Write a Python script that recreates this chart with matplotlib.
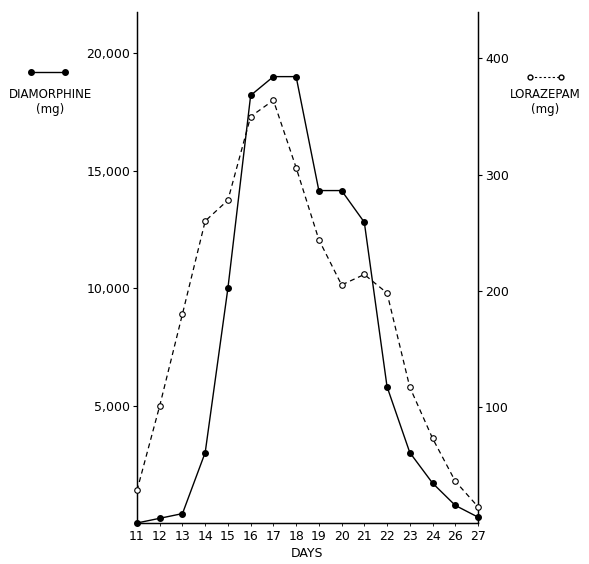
import numpy as np
import matplotlib
matplotlib.use("Agg")
import matplotlib.pyplot as plt

# day labels as printed on the chart (25 is absent in the original)
days = ["11", "12", "13", "14", "15", "16", "17", "18", "19", "20",
        "21", "22", "23", "24", "26", "27"]
diamorphine = [0, 200, 400, 3000, 10000, 18200, 19000, 19000, 14150, 14150,
               12800, 5800, 3000, 1700, 750, 250]
lorazepam = [28, 101, 180, 260, 278, 350, 364, 306, 244, 205,
             214, 198, 117, 73, 36, 14]

plt.rcParams["font.family"] = ["DejaVu Sans"]
plt.rcParams["font.size"] = 9

fig = plt.figure(figsize=(5.89, 5.64), dpi=100)
ax = fig.add_axes([0.2326, 0.0727, 0.5789, 0.906])
ax2 = ax.twinx()

x = np.arange(len(days))
ax.plot(x, diamorphine, color="black", lw=1.0, marker="o", ms=4,
        mfc="black", mec="black", clip_on=False, zorder=3)
ax2.plot(x, lorazepam, color="black", lw=0.9, ls=(0, (4, 3)), marker="o",
         ms=4, mfc="white", mec="black", mew=0.8, clip_on=False, zorder=3)

ax.set_xlim(0, len(days) - 1)
ax.set_ylim(0, 21750)
ax2.set_ylim(0, 440)

ax.set_xticks(x)
ax.set_xticklabels(days)
ax.tick_params(axis="x", length=2, width=0.6, pad=3)
ax.set_yticks([5000, 10000, 15000, 20000])
ax.set_yticklabels(["5,000", "10,000", "15,000", "20,000"])
ax.tick_params(axis="y", length=3, width=0.8, pad=2)
ax2.set_yticks([100, 200, 300, 400])
ax2.tick_params(axis="y", length=3, width=0.8, pad=2)
ax.set_xlabel("DAYS", labelpad=3)

for a in (ax, ax2):
    a.spines["top"].set_visible(False)
    for s in ("left", "right", "bottom"):
        a.spines[s].set_linewidth(0.9)

# hand-drawn style keys at the top corners
fig.lines.append(plt.Line2D([31 / 589, 65 / 589], [1 - 72 / 564] * 2,
                            transform=fig.transFigure, color="black",
                            lw=1.0, marker="o", ms=4))
fig.text(50 / 589, 1 - 95 / 564, "DIAMORPHINE", ha="center", va="center",
         fontsize=8.5)
fig.text(50 / 589, 1 - 110 / 564, "(mg)", ha="center", va="center",
         fontsize=8.5)

fig.lines.append(plt.Line2D([530 / 589, 561 / 589], [1 - 77 / 564] * 2,
                            transform=fig.transFigure, color="black",
                            lw=0.8, ls=(0, (2, 2)), marker="o", ms=3.5,
                            mfc="white", mec="black"))
fig.text(545 / 589, 1 - 95 / 564, "LORAZEPAM", ha="center", va="center",
         fontsize=8.5)
fig.text(545 / 589, 1 - 110 / 564, "(mg)", ha="center", va="center",
         fontsize=8.5)

fig.savefig("out.png", dpi=100)
